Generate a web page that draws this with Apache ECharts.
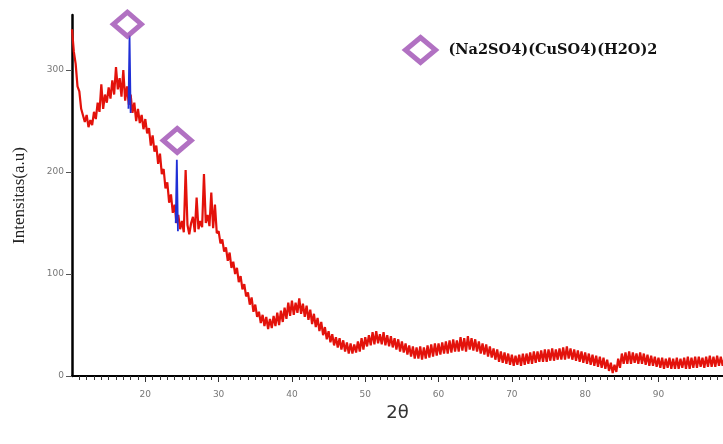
<!DOCTYPE html>
<html><head><meta charset="utf-8">
<script src="https://cdn.jsdelivr.net/npm/echarts@6/dist/echarts.min.js"></script>
<style>html,body{margin:0;padding:0;background:#fff}#c{width:723px;height:444px}</style>
</head><body><div id="c"></div>
<script>
// 2θ from 10 to 99 at 0.25° steps
const xStart = 10, xStep = 0.25;
const intensity = [
340,318,306,284,279,262,263,249,256,244,251,246,259,252,268,259,286,262,276,268,
283,272,290,276,303,281,292,274,300,270,284,266,276,258,268,250,262,248,256,242,
252,238,243,226,236,220,226,208,218,198,203,184,190,170,178,160,168,150,158,144,
152,141,202,148,139,150,156,141,175,144,152,146,198,150,158,147,180,145,168,140,
142,130,134,122,126,113,121,106,112,100,106,92,98,85,90,78,82,70,77,63,
70,58,63,52,60,49,58,46,56,47,59,49,62,50,64,53,67,56,72,59,
74,60,72,62,76,61,71,58,69,55,65,51,61,48,57,44,53,40,48,36,
44,33,41,30,38,28,37,26,35,24,33,22,32,22,31,23,34,24,37,26,
38,29,40,30,43,31,44,32,41,31,43,30,40,29,39,28,37,26,36,24,
34,23,32,21,30,19,29,17,28,17,29,16,28,17,30,18,31,19,32,20,
32,21,33,22,34,22,35,23,36,24,35,24,38,25,37,24,39,26,37,25,
36,24,34,22,32,21,31,19,29,18,27,16,26,14,24,13,23,12,22,11,
21,10,20,11,21,10,22,11,22,12,23,12,24,13,24,14,25,14,26,14,
26,15,27,15,26,16,27,16,28,16,29,17,27,16,26,15,25,14,24,13,
23,12,22,11,21,10,20,9,19,8,18,7,16,5,13,3,11,4,17,8,
22,12,23,12,24,12,23,13,22,12,23,12,22,11,21,10,20,10,19,9,
18,8,18,7,17,8,18,7,17,7,18,7,17,8,18,7,19,7,18,8,
19,8,19,9,18,8,19,9,20,9,19,9,20,10,19,10,18
];
const peak1 = [[17.7,262],[17.85,334],[18.0,258]];
const peak2 = [[24.15,150],[24.3,212],[24.45,142]];
const markerPts = [[17.55,345],[24.35,231]];
const phaseName = '(Na2SO4)(CuSO4)(H2O)2';
const yTicks = [0,100,200,300];
const xTicks = [20,30,40,50,60,70,80,90];

const pattern = intensity.map((v,i)=>[xStart + i*xStep, v]);
const markerStyle = {color:'#fff', borderColor:'#9d4db3', borderWidth:5};

const chart = echarts.init(document.getElementById('c'));
chart.setOption({
  animation:false,
  backgroundColor:'#fff',
  grid:{left:72,right:0,top:15,bottom:68},
  legend:{
    data:[{name:phaseName, itemStyle:markerStyle}],
    left:398, top:30, itemWidth:30, itemHeight:25, itemGap:12,
    textStyle:{fontFamily:'DejaVu Serif', fontWeight:'bold', fontSize:14.5, color:'#111', padding:[0,0,0,8]}
  },
  xAxis:{
    type:'value', min:10, max:98.8, interval:10,
    name:'2θ', nameLocation:'middle', nameGap:27,
    nameTextStyle:{fontFamily:'DejaVu Sans', fontSize:18, color:'#333'},
    axisLine:{lineStyle:{color:'#000', width:2}},
    axisTick:{length:6, lineStyle:{color:'#333', width:1}, customValues:xTicks},
    minorTick:{show:true, splitNumber:10, length:4, lineStyle:{color:'#333'}},
    axisLabel:{customValues:xTicks, color:'#777', fontSize:9, margin:14, fontFamily:'DejaVu Sans'},
    splitLine:{show:false}
  },
  yAxis:{
    type:'value', min:0, max:354, interval:100,
    name:'Intensitas(a.u)', nameLocation:'middle', nameGap:44, nameRotate:90,
    nameTextStyle:{fontFamily:'Liberation Serif', fontSize:17, color:'#222'},
    axisLine:{show:true, lineStyle:{color:'#000', width:2.5}},
    axisTick:{show:true, length:6, customValues:yTicks, lineStyle:{color:'#555'}},
    axisLabel:{customValues:yTicks, color:'#777', fontSize:9, margin:8, fontFamily:'DejaVu Sans'},
    splitLine:{show:false}
  },
  series:[
    {type:'line', data:pattern, showSymbol:false, lineStyle:{color:'#e3120b', width:2.2}, z:2},
    {type:'line', data:peak1, showSymbol:false, lineStyle:{color:'#1f2fd6', width:1.8}, z:3},
    {type:'line', data:peak2, showSymbol:false, lineStyle:{color:'#1f2fd6', width:1.8}, z:3},
    {type:'scatter', name:phaseName, data:markerPts, symbol:'diamond', symbolSize:[28,24],
     itemStyle:markerStyle, z:5}
  ]
});
</script></body></html>
